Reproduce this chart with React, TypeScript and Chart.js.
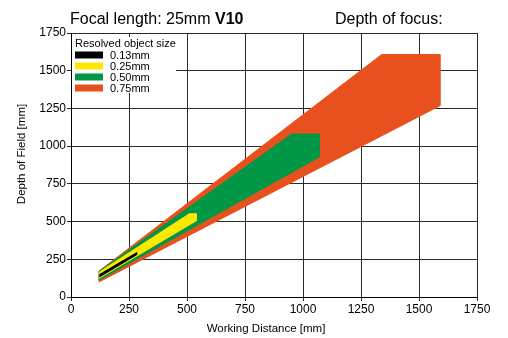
import React, { useEffect, useRef } from 'react';
import { Chart, registerables } from 'chart.js';

Chart.register(...registerables);

const FONT = '"Liberation Sans", Arial, Helvetica, sans-serif';

const titleMain = 'Focal length: 25mm ';
const titleBold = 'V10';
const titleRight = 'Depth of focus:';
const legendTitle = 'Resolved object size';
const xAxisTitle = 'Working Distance [mm]';
const yAxisTitle = 'Depth of Field [mm]';

const xTicks = [0, 250, 500, 750, 1000, 1250, 1500, 1750];
const yTicks = [0, 250, 500, 750, 1000, 1250, 1500, 1750];

const seriesLabels = ['0.13mm', '0.25mm', '0.50mm', '0.75mm'];
const seriesColors = ['#000000', '#FFE800', '#009846', '#E8511E'];

// polygon outlines: working distance (x) and depth of field (y), in mm
const black013X = [124, 124, 283, 283];
const black013Y = [134, 150, 294, 280];
const yellow025X = [122, 122, 510, 540, 540];
const yellow025Y = [125, 165, 552, 552, 505];
const green050X = [121, 121, 951, 1070, 1070];
const green050Y = [112, 170, 1080, 1080, 928];
const orange075X = [121, 121, 1339, 1590, 1590];
const orange075Y = [100, 172, 1607, 1607, 1268];

const seriesX = [black013X, yellow025X, green050X, orange075X];
const seriesY = [black013Y, yellow025Y, green050Y, orange075Y];

const toPoints = (xs: number[], ys: number[]) => {
  const pts = xs.map((x, i) => ({ x, y: ys[i] }));
  pts.push({ x: xs[0], y: ys[0] });
  return pts;
};

const overlayPlugin = {
  id: 'overlay',
  afterDraw(chart: any) {
    const ctx = chart.ctx as CanvasRenderingContext2D;
    const area = chart.chartArea;
    ctx.save();
    // title
    ctx.fillStyle = '#000';
    ctx.textBaseline = 'alphabetic';
    ctx.textAlign = 'left';
    ctx.font = `16px ${FONT}`;
    ctx.fillText(titleMain, 70, 24);
    const w = ctx.measureText(titleMain).width;
    ctx.font = `bold 16px ${FONT}`;
    ctx.fillText(titleBold, 70 + w, 24);
    ctx.font = `16px ${FONT}`;
    ctx.fillText(titleRight, 335, 24);

    // axis titles
    ctx.font = `11.5px ${FONT}`;
    ctx.textAlign = 'center';
    ctx.fillText(xAxisTitle, 266, 332);
    ctx.save();
    ctx.translate(25, 154);
    ctx.rotate(-Math.PI / 2);
    ctx.fillText(yAxisTitle, 0, 0);
    ctx.restore();

    // legend
    const lx = area.left + 1;
    ctx.fillStyle = '#fff';
    ctx.fillRect(lx, 37, 104, 56);
    ctx.fillStyle = '#000';
    ctx.textAlign = 'left';
    ctx.font = `11px ${FONT}`;
    ctx.fillText(legendTitle, 75, 47);
    ctx.textBaseline = 'middle';
    seriesLabels.forEach((lab, i) => {
      const cy = 55 + i * 11;
      ctx.fillStyle = seriesColors[i];
      ctx.fillRect(75, cy - 3.5, 28, 7);
      ctx.fillStyle = '#000';
      ctx.fillText(lab, 110, cy + 0.5);
    });
    ctx.restore();
  },
};

export default function App() {
  const ref = useRef<HTMLCanvasElement>(null);
  useEffect(() => {
    if (!ref.current) return;
    const chart = new Chart(ref.current, {
      type: 'scatter',
      data: {
        datasets: seriesLabels.map((label, i) => ({
          label,
          data: toPoints(seriesX[i], seriesY[i]),
          showLine: true,
          fill: 'shape',
          backgroundColor: seriesColors[i],
          borderColor: seriesColors[i],
          borderWidth: 1,
          pointRadius: 0,
          pointHoverRadius: 0,
          tension: 0,
        })),
      },
      options: {
        animation: false,
        responsive: false,
        maintainAspectRatio: false,
        layout: { padding: { left: 0, top: 33, right: 31, bottom: 0 } },
        plugins: {
          legend: { display: false },
          tooltip: { enabled: false },
          title: { display: false },
        },
        scales: {
          x: {
            type: 'linear',
            min: 0,
            max: 1750,
            afterBuildTicks: (s: any) => {
              s.ticks = xTicks.map((v) => ({ value: v }));
            },
            afterFit: (s: any) => {
              s.height = 41;
            },
            ticks: {
              color: '#000',
              font: { family: FONT, size: 12 },
              padding: 1,
              maxRotation: 0,
              callback: (v: any) => String(v),
            },
            grid: { color: '#2a2a2a', lineWidth: 1, tickLength: 4 },
            border: { color: '#000', width: 1 },
          },
          y: {
            type: 'linear',
            min: 0,
            max: 1750,
            afterBuildTicks: (s: any) => {
              s.ticks = yTicks.map((v) => ({ value: v }));
            },
            afterFit: (s: any) => {
              s.width = 71;
            },
            ticks: {
              color: '#000',
              font: { family: FONT, size: 12 },
              padding: 1,
              callback: (v: any) => String(v),
            },
            grid: { color: '#2a2a2a', lineWidth: 1, tickLength: 4 },
            border: { color: '#000', width: 1 },
          },
        },
      },
      plugins: [overlayPlugin],
    });
    return () => chart.destroy();
  }, []);
  return (
    <div style={{ position: 'fixed', left: 0, top: 0, width: 508, height: 338, background: '#fff' }}>
      <canvas ref={ref} width={508} height={338} style={{ width: 508, height: 338 }} />
    </div>
  );
}
